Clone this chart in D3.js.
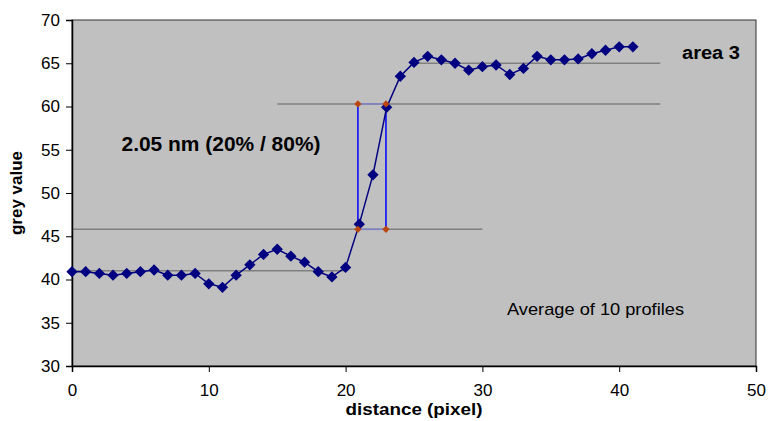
<!DOCTYPE html>
<html>
<head>
<meta charset="utf-8">
<script src="https://cdn.jsdelivr.net/npm/d3@7"></script>
<style>
    body { margin: 0; background: #fff; }
    text { font-family: "Liberation Sans", Arial, sans-serif; }
</style>
</head>
<body>
<div id="chart"></div>
<script>
// profile data
var distance = [0, 1, 2, 3, 4, 5, 6, 7, 8, 9, 10, 11, 12, 13, 14, 15, 16, 17, 18, 19, 20,
    21, 22, 23, 24, 25, 26, 27, 28, 29, 30, 31, 32, 33, 34, 35, 36, 37, 38, 39, 40, 41];
var greyValue = [40.9, 40.9, 40.7, 40.5, 40.7, 40.9, 41.1, 40.5, 40.5, 40.7, 39.5, 39.1, 40.5,
    41.7, 42.9, 43.5, 42.7, 42.0, 40.9, 40.3, 41.4, 46.4, 52.1, 59.9, 63.5, 65.1, 65.8, 65.4,
    65.0, 64.2, 64.6, 64.8, 63.7, 64.4, 65.8, 65.4, 65.4, 65.5, 66.1, 66.5, 66.9, 66.9];

// grey level lines: [value, from, to]
var levelValue = [41.0, 45.8, 60.3, 65.0];
var levelFrom = [0, 0, 15, 25];
var levelTo = [20, 30, 43, 43];

// 20% / 80% crossing points
var crossX = [20.9, 22.95];
var crossY = [45.8, 60.3];

var xTicks = [0, 10, 20, 30, 40, 50];
var yTicks = [30, 35, 40, 45, 50, 55, 60, 65, 70];

var W = 770, H = 421;
var m = { top: 20, right: 14, bottom: 55, left: 72 };

var svg = d3.select('#chart').append('svg')
    .attr('width', W)
    .attr('height', H);

var x = d3.scaleLinear().domain([0, 50]).range([m.left, W - m.right]);
var y = d3.scaleLinear().domain([30, 70]).range([H - m.bottom, m.top]);

// plot area
svg.append('rect')
    .attr('x', x(0))
    .attr('y', y(70))
    .attr('width', x(50) - x(0))
    .attr('height', y(30) - y(70))
    .attr('fill', '#c0c0c0')
    .attr('stroke', '#333')
    .attr('stroke-width', 1);

// level lines
svg.selectAll('.level')
    .data(levelValue)
    .enter()
    .append('line')
    .attr('class', 'level')
    .attr('x1', function(d, i) { return x(levelFrom[i]); })
    .attr('x2', function(d, i) { return x(levelTo[i]); })
    .attr('y1', function(d) { return y(d); })
    .attr('y2', function(d) { return y(d); })
    .attr('stroke', '#808080')
    .attr('stroke-width', 1.5);

// horizontal links between crossings
svg.selectAll('.hlink')
    .data(crossY)
    .enter()
    .append('line')
    .attr('x1', x(crossX[0]))
    .attr('x2', x(crossX[1]))
    .attr('y1', function(d) { return y(d); })
    .attr('y2', function(d) { return y(d); })
    .attr('stroke', '#8080c8')
    .attr('stroke-width', 1.5);

// vertical width markers
svg.selectAll('.vlink')
    .data(crossX)
    .enter()
    .append('line')
    .attr('x1', function(d) { return x(d); })
    .attr('x2', function(d) { return x(d); })
    .attr('y1', y(crossY[0]))
    .attr('y2', y(crossY[1]))
    .attr('stroke', '#0000ff')
    .attr('stroke-width', 1.5);

// axes
var yAxis = d3.axisLeft(y).tickValues(yTicks).tickSize(6).tickPadding(6);
var xAxis = d3.axisBottom(x).tickValues(xTicks).tickSize(6).tickPadding(12);

var gy = svg.append('g')
    .attr('transform', 'translate(' + x(0) + ',0)')
    .call(yAxis);
var gx = svg.append('g')
    .attr('transform', 'translate(0,' + y(30) + ')')
    .call(xAxis);

[gx, gy].forEach(function(g) {
    g.select('.domain').attr('stroke', '#000').attr('stroke-width', 1.5);
    g.selectAll('.tick line').attr('stroke', '#000');
    g.selectAll('.tick text')
        .attr('fill', '#000')
        .style('font-size', '17px')
        .style('font-family', '"Liberation Sans", Arial, sans-serif');
});

// profile line
var line = d3.line()
    .x(function(d, i) { return x(distance[i]); })
    .y(function(d) { return y(d); });

svg.append('path')
    .datum(greyValue)
    .attr('d', line)
    .attr('fill', 'none')
    .attr('stroke', '#000080')
    .attr('stroke-width', 1.5);

svg.selectAll('.pt')
    .data(greyValue)
    .enter()
    .append('path')
    .attr('class', 'pt')
    .attr('d', d3.symbol().type(d3.symbolSquare).size(64))
    .attr('transform', function(d, i) {
        return 'translate(' + x(distance[i]) + ',' + y(d) + ') rotate(45)';
    })
    .attr('fill', '#000080');

// crossing markers (corners of the box)
var corners = [];
crossX.forEach(function(cx) {
    crossY.forEach(function(cy) { corners.push([cx, cy]); });
});

svg.selectAll('.corner')
    .data(corners)
    .enter()
    .append('path')
    .attr('d', d3.symbol().type(d3.symbolSquare).size(26))
    .attr('transform', function(d) {
        return 'translate(' + x(d[0]) + ',' + y(d[1]) + ') rotate(45)';
    })
    .attr('fill', '#b8460e');

// labels
svg.append('text')
    .attr('x', 121.5)
    .attr('y', 151)
    .attr('textLength', 199)
    .attr('lengthAdjust', 'spacingAndGlyphs')
    .style('font-size', '20px')
    .style('font-weight', 'bold')
    .text('2.05 nm (20% / 80%)');

svg.append('text')
    .attr('x', 682)
    .attr('y', 59)
    .attr('textLength', 58)
    .attr('lengthAdjust', 'spacingAndGlyphs')
    .style('font-size', '18px')
    .style('font-weight', 'bold')
    .text('area 3');

svg.append('text')
    .attr('x', 507)
    .attr('y', 315)
    .attr('textLength', 177)
    .attr('lengthAdjust', 'spacingAndGlyphs')
    .style('font-size', '17px')
    .text('Average of 10 profiles');

svg.append('text')
    .attr('x', (x(0) + x(50)) / 2)
    .attr('y', 415)
    .attr('text-anchor', 'middle')
    .attr('textLength', 137)
    .attr('lengthAdjust', 'spacingAndGlyphs')
    .style('font-size', '16px')
    .style('font-weight', 'bold')
    .text('distance (pixel)');

svg.append('text')
    .attr('transform', 'translate(22,' + (y(30) + y(70)) / 2 + ') rotate(-90)')
    .attr('text-anchor', 'middle')
    .attr('textLength', 84)
    .attr('lengthAdjust', 'spacingAndGlyphs')
    .style('font-size', '16px')
    .style('font-weight', 'bold')
    .text('grey value');
</script>
</body>
</html>
